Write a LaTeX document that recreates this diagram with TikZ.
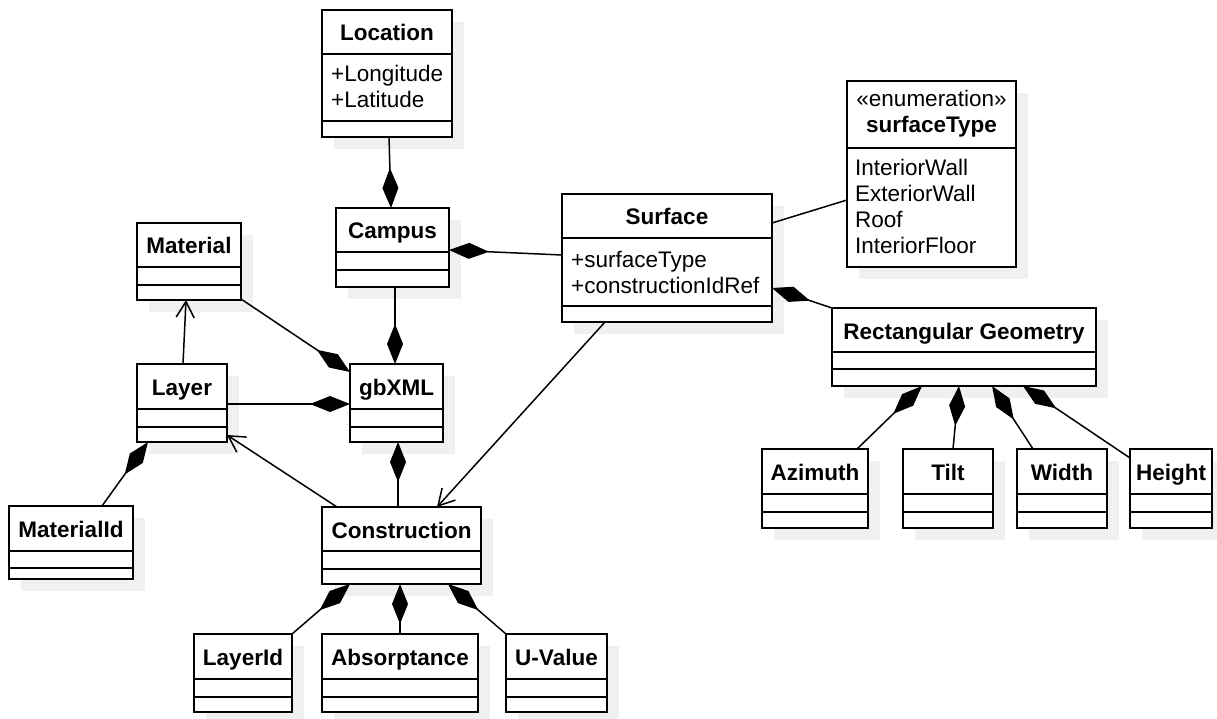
\documentclass[tikz,border=0pt]{standalone}
\usepackage{fontspec}
\setmainfont{Liberation Sans}
\usetikzlibrary{arrows.meta}
\definecolor{shadowgray}{RGB}{240,240,240}

\tikzset{
  x=1pt, y=-1pt,
  classbox/.style={draw=black, line width=1.8pt, fill=white, rectangle,
    inner sep=0pt, outer sep=0pt},
  splitline/.style={line width=1.6pt},
  titletext/.style={font=\fontsize{22.5}{26}\selectfont\bfseries,
    inner sep=0pt, anchor=base},
  stereotext/.style={font=\fontsize{22.5}{26}\selectfont,
    inner sep=0pt, anchor=base},
  attrtext/.style={font=\fontsize{22.5}{26}\selectfont,
    inner sep=0pt, anchor=base west},
  assoc/.style={line width=1.5pt},
  compose/.style={assoc, -{Diamond[length=40pt,width=16pt]}},
  navig/.style={assoc, -{Straight Barb[length=16pt,width=18pt,line width=1.5pt]}},
}

% UML class box: name, left, top, right, bottom, first split, second split, title
\newcommand\umlclass[8]{%
  \fill[shadowgray] ({#2+12},{#3+12}) rectangle ({#4+12},{#5+12});
  \node[classbox, minimum width={(#4)-(#2)}, minimum height={(#5)-(#3)}]
    (#1) at ({(#2+#4)/2},{(#3+#5)/2}) {};
  \draw[splitline] ({#2},{#6}) -- ({#4},{#6});
  \draw[splitline] ({#2},{#7}) -- ({#4},{#7});
  \node[titletext] (#1-title) at ({(#2+#4)/2},{#3+31}) {#8};
}

\begin{document}
\begin{tikzpicture}
  \useasboundingbox (0,0) rectangle (1217,719);

  % classes
  \umlclass{location}{322}{10}{452}{137}{54}{121}{Location}
  \node[attrtext] (location-a1) at (331,82) {+Longitude};
  \node[attrtext] (location-a2) at (331,108) {+Latitude};

  \umlclass{campus}{336}{208}{449}{287}{252}{270}{Campus}
  \umlclass{material}{137}{223}{241}{300}{267}{285}{Material}
  \umlclass{layer}{137}{364}{227}{442}{409}{427}{Layer}
  \umlclass{gbxml}{350}{364}{443}{442}{409}{427}{gbXML}

  \umlclass{surface}{562}{194}{772}{322}{238}{306}{Surface}
  \node[attrtext] (surface-a1) at (571,267) {+surfaceType};
  \node[attrtext] (surface-a2) at (571,293) {+constructionIdRef};

  % enumeration box: stereotype and name share the upper compartment
  \fill[shadowgray] (859,93) rectangle (1028,279);
  \node[classbox, minimum width=169, minimum height=186] (stype) at (931.5,174) {};
  \draw[splitline] (847,148) -- (1016,148);
  \node[stereotext] (stype-stereo) at (931.5,107) {«enumeration»};
  \node[titletext] (stype-title) at (931.5,133) {surfaceType};
  \node[attrtext] (stype-v1) at (855,176) {InteriorWall};
  \node[attrtext] (stype-v2) at (855,202) {ExteriorWall};
  \node[attrtext] (stype-v3) at (855,228) {Roof};
  \node[attrtext] (stype-v4) at (855,254) {InteriorFloor};

  \umlclass{rg}{832}{308}{1096}{386}{352}{369}{Rectangular Geometry}
  \umlclass{azimuth}{762}{449}{868}{528}{494}{512}{Azimuth}
  \umlclass{tilt}{903}{449}{993}{528}{494}{512}{Tilt}
  \umlclass{width}{1017}{449}{1107}{528}{494}{512}{Width}
  \umlclass{height}{1130}{449}{1212}{528}{494}{512}{Height}

  \umlclass{construction}{322}{507}{481}{584}{551}{569}{Construction}
  \umlclass{layerid}{194}{634}{292}{712}{679}{697}{LayerId}
  \umlclass{absorptance}{322}{634}{478}{712}{679}{697}{Absorptance}
  \umlclass{uvalue}{506}{634}{607}{712}{679}{697}{U-Value}
  \umlclass{materialid}{9}{506}{133}{579}{551}{568}{MaterialId}

  % composition links (diamond on the owning class)
  \draw[compose] ([xshift=67pt]location.south west) -- ([xshift=55pt]campus.north west);
  \draw[compose] ([yshift=3pt]surface.west) -- ([yshift=-2.5pt]campus.east);
  \draw[compose] ([xshift=59pt]campus.south west) -- ([xshift=45pt]gbxml.north west);
  \draw[compose] ([yshift=1pt]material.south east) -- ([yshift=-8pt]gbxml.north west);
  \draw[compose] ([yshift=-1pt]layer.east) -- ([yshift=-1pt]gbxml.west);
  \draw[compose] ([xshift=93pt]materialid.north west) -- ([xshift=11pt]layer.south west);
  \draw[compose] ([xshift=76pt]construction.north west) -- ([xshift=48pt]gbxml.south west);
  \draw[compose] (rg.north west) -- ([yshift=-30pt]surface.east);
  \draw[compose] ([xshift=95pt]azimuth.north west) -- ([xshift=90pt]rg.south west);
  \draw[compose] ([xshift=5pt]tilt.north) -- ([xshift=127pt]rg.south west);
  \draw[compose] ([xshift=16pt]width.north west) -- ([xshift=160pt]rg.south west);
  \draw[compose] ([yshift=-9pt]height.north west) -- ([xshift=191pt]rg.south west);
  \draw[compose] (layerid.north east) -- ([xshift=28pt]construction.south west);
  \draw[compose] ([xshift=78pt]absorptance.north west) -- ([xshift=78pt]construction.south west);
  \draw[compose] (uvalue.north west) -- ([xshift=126pt]construction.south west);

  % navigable associations
  \draw[navig] ([xshift=46pt]layer.north west) -- ([xshift=49pt]material.south west);
  \draw[navig] ([xshift=15pt]construction.north west) -- ([yshift=7pt]layer.south east);
  \draw[navig] ([xshift=43pt]surface.south west) -- ([xshift=115pt]construction.north west);

  % plain association to the enumeration
  \draw[assoc] ([yshift=35pt]surface.east) -- ([yshift=-119pt]stype.north west);
\end{tikzpicture}
\end{document}
